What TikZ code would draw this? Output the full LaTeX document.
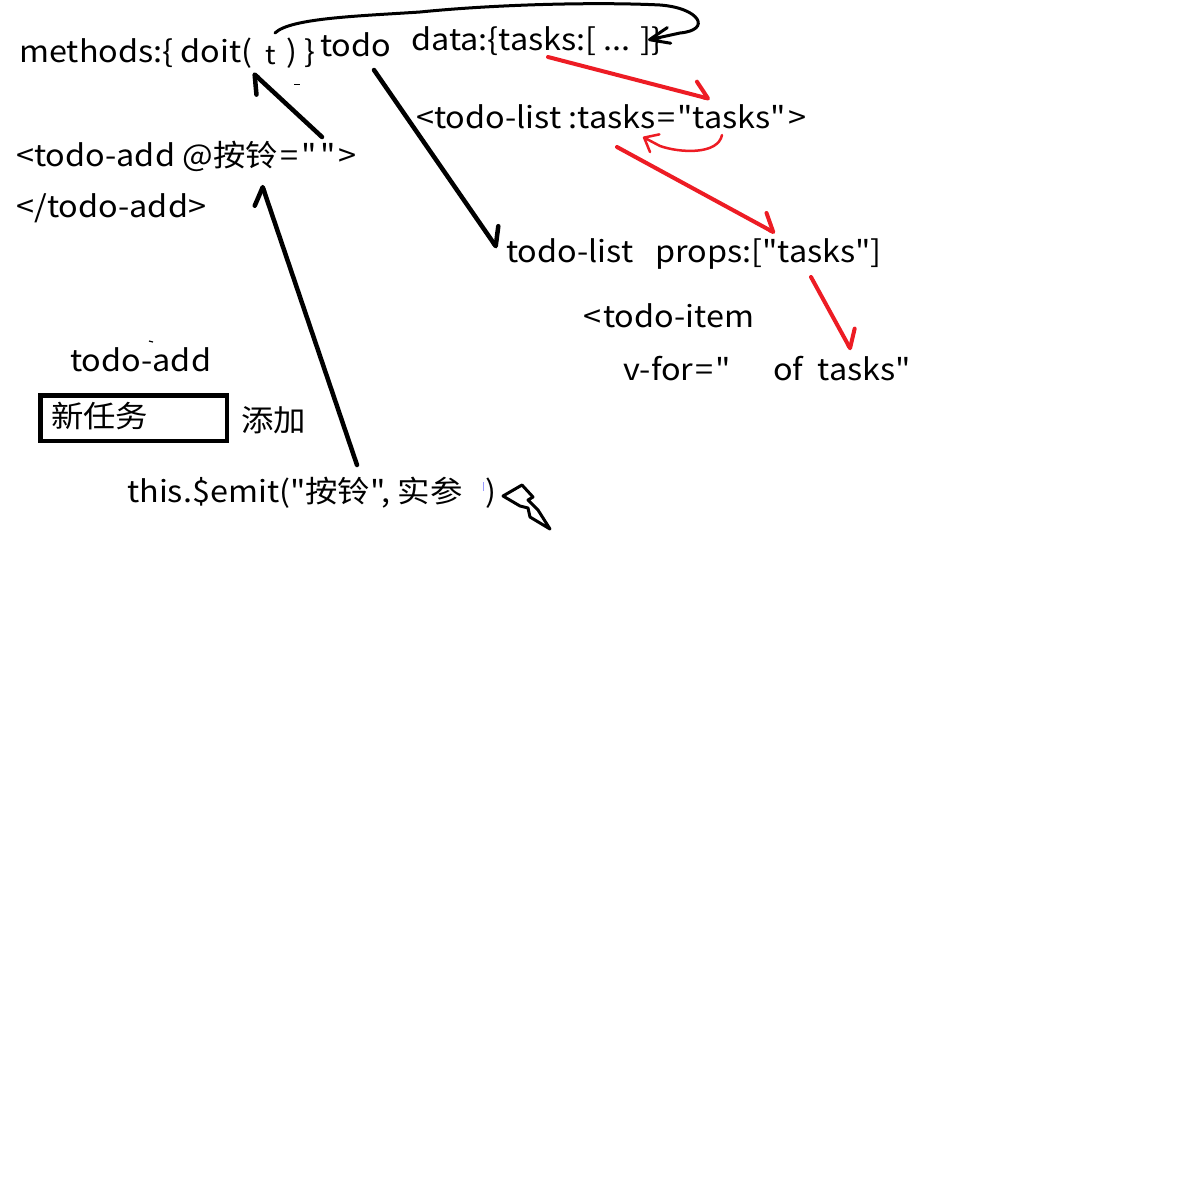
\documentclass[tikz,border=0pt]{standalone}
\usepackage{fontspec}
\setmainfont{Noto Sans CJK SC}[Ligatures=TeXOff,FakeStretch=1.08]
\usetikzlibrary{arrows.meta}
\definecolor{penred}{RGB}{237,28,36}
\newcommand{\gap}{\kern3pt}
\begin{document}
\begin{tikzpicture}[x=1pt,y=-1pt,
  txt/.style={anchor=base west,inner sep=0pt,font=\fontsize{30}{36}\selectfont},
  pen/.style={draw=black,line width=4.5pt,line cap=round,line join=round},
  redpen/.style={pen,draw=penred,line width=4pt},
  half/.tip={Straight Barb[harpoon,round,length=15pt,width=27pt]},
  full/.tip={Straight Barb[round,length=20pt,width=16pt]}]
% canvas
\path[fill=white] (0,0) rectangle (1184,1176);

% code fragments
\node[txt] (methods) at (19,62) {methods:\{ doit(};
\node[txt,font=\fontsize{26}{30}\selectfont] (targ) at (265,64) {t};
\node[txt] (close) at (286,62) {) \}};
\node[txt] (todo) at (320,56) {todo};
\node[txt] (data) at (411,50) {data:\{tasks:[ ... ]\}};
\node[txt] (listtag) at (416,128) {<todo-list :tasks\kern2pt=\kern2pt"tasks"\kern2pt>};
\node[txt] (addtag) at (16,166) {<todo-add @按铃\gap=\gap"\gap"\gap>};
\node[txt] (addend) at (16,217) {</todo-add>};
\node[txt] (listname) at (506,262) {todo-list};
\node[txt] (props) at (655,262) {props:["tasks"]};
\node[txt] (itemtag) at (583,327) {<\kern2pt todo-item};
\node[txt] (vfor) at (623,380) {v-for\kern2pt=\kern2pt"};
\node[txt] (oftasks) at (773,380) {of\ \ tasks"};

% the todo-add component mock-up
\node[txt] (addname) at (70,371) {todo-add};
\node[draw,line width=4.5pt,outer sep=0pt,inner sep=0pt,anchor=north west,
      minimum width=186.5pt,minimum height=45.5pt] (input) at (40.25,395.25) {};
\node[anchor=west,inner sep=0pt,font=\fontsize{30}{36}\selectfont] (newtask) at (51,416) {新任务};
\node[anchor=west,inner sep=0pt,font=\fontsize{30}{36}\selectfont] (addbtn) at (241,420) {添加};
\node[txt] (emit) at (127,502) {this.\$emit("按铃", 实参};
\node[txt] (emitclose) at (485,502) {)};

% lightning mark
\draw[line width=3pt,line join=round,fill=white] (503,496) -- (522,485) -- (533,497) -- (528,500)
  -- (538,510) -- (550,529) -- (530,517) -- (528,508) -- (520,506) -- cycle;

% small stray strokes
\draw[line width=1pt] (294,84) -- (300,84);
\draw[line width=1.2pt] (149,341) -- (153,342);
\draw[line width=0.8pt,draw=blue!40] (483,482) -- (483,491);

% anchor points of the connectors
\coordinate (bellA) at (322,137);
\coordinate (paramT) at (253,73);
\coordinate (emitTop) at (357,465);
\coordinate (bellB) at (262,185);
\coordinate (todoFoot) at (374,70);
\coordinate (listHead) at (497,248);
\coordinate (loopStart) at (275,33);
\coordinate (dataEnd) at (648,40);
\coordinate (dataTasks) at (548,57);
\coordinate (bindValue) at (710,99);
\coordinate (bindName) at (617,147);
\coordinate (propTasks) at (775,233);
\coordinate (propFoot) at (811,277);
\coordinate (loopTasks) at (851,350);
\coordinate (valueFoot) at (722,135);
\coordinate (nameFoot) at (643,137);

% black connectors
\draw[pen,-{half}] (bellA) -- (paramT);
\draw[pen,-{half}] (emitTop) -- (bellB);
\draw[pen,-{half}] (todoFoot) -- (listHead);
\draw[pen,line width=3pt,-{full}] (loopStart) .. controls (290,18) and (360,16) .. (420,12)
  .. controls (500,4) and (600,2) .. (660,5) .. controls (700,8) and (712,30) .. (680,33) -- (dataEnd);

% red connectors
\draw[redpen,-{half}] (dataTasks) -- (bindValue);
\draw[redpen,-{half}] (bindName) -- (propTasks);
\draw[redpen,-{half}] (propFoot) -- (loopTasks);
\draw[redpen,line width=2.5pt,-{Straight Barb[round,length=12pt,width=20pt]}] (valueFoot)
  .. controls (718,155) and (680,153) .. (660,146) -- (nameFoot);
\end{tikzpicture}
\end{document}
